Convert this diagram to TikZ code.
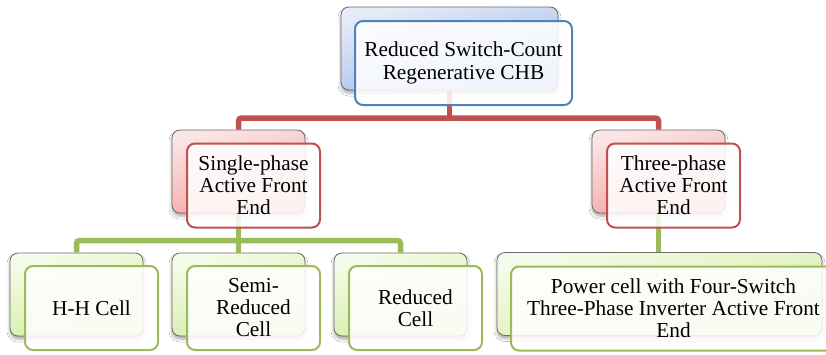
\documentclass[tikz,border=0pt]{standalone}
\usepackage{fontspec}
\setmainfont{Liberation Serif}
\usetikzlibrary{shadows.blur}

\definecolor{accblue}{HTML}{4F81BD}
\definecolor{accred}{HTML}{C0504D}
\definecolor{accgreen}{HTML}{9BBB59}
\definecolor{blueTop}{HTML}{E6ECF7}
\definecolor{blueBot}{HTML}{9DB8EA}
\definecolor{redTop}{HTML}{FBE6E6}
\definecolor{redBot}{HTML}{F4A3A3}
\definecolor{greenTop}{HTML}{F5FBEA}
\definecolor{greenBot}{HTML}{D2EDA2}

\tikzset{
  backbox/.style={rectangle, rounded corners=8pt, draw=black!58, line width=0.8pt,
    inner sep=0pt, minimum height=83pt,
    blur shadow={shadow xshift=0pt, shadow yshift=-3pt, shadow blur radius=3pt, shadow opacity=35}},
  frontbox/.style={rectangle, rounded corners=8pt, line width=2pt,
    fill=white, fill opacity=0.86, text opacity=1, inner sep=0pt,
    minimum height=84pt, align=center,
    font=\fontsize{21.3}{22}\selectfont},
  bluebox/.style={backbox, top color=blueTop, bottom color=blueBot, shading angle=15},
  redbox/.style={backbox, top color=redTop, bottom color=redBot, shading angle=15},
  greenbox/.style={backbox, top color=greenTop, bottom color=greenBot, shading angle=15},
  conn/.style={line width=5.5pt, rounded corners=3pt},
}

\begin{document}
\begin{tikzpicture}[x=1pt, y=-1pt]
\clip (0,0) rectangle (826,354);
\fill[white] (0,0) rectangle (826,354);

% rear boxes
\node[bluebox, minimum width=217pt] (topB) at (449.5,48.5) {};
\node[redbox, minimum width=133pt] (sgB) at (238.5,171.5) {};
\node[redbox, minimum width=133pt] (thB) at (658.5,171.5) {};
\node[greenbox, minimum width=133pt] (hhB) at (76.5,294.5) {};
\node[greenbox, minimum width=133pt] (smB) at (238.5,294.5) {};
\node[greenbox, minimum width=133pt] (rdB) at (400.5,294.5) {};
\node[greenbox, minimum width=325pt] (pcB) at (659.5,294) {};

% connectors
\coordinate (rbar) at (0,118);
\coordinate (gbar) at (0,240.5);
\draw[conn, accred] (topB.south) -- (topB.south |- rbar);
\draw[conn, accred] (sgB.north) -- (sgB.north |- rbar) -- (thB.north |- rbar) -- (thB.north);
\draw[conn, accgreen] (hhB.north) -- (hhB.north |- gbar) -- (rdB.north |- gbar) -- (rdB.north);
\draw[conn, accgreen] (sgB.south) -- (smB.north);
\draw[conn, accgreen] (thB.south) -- (thB.south |- pcB.north);

% front boxes with labels
\node[frontbox, draw=accblue, minimum width=217pt] (topF) at (463.5,63)
  {Reduced Switch-Count\\[1.5pt]Regenerative CHB};
\node[frontbox, draw=accred, minimum width=133pt] (sgF) at (253.5,185.5)
  {Single-phase\\Active Front\\End};
\node[frontbox, draw=accred, minimum width=133pt] (thF) at (673.5,185.5)
  {Three-phase\\Active Front\\End};
\node[frontbox, draw=accgreen, minimum width=133pt] (hhF) at (91.5,308)
  {H-H Cell};
\node[frontbox, draw=accgreen, minimum width=133pt] (smF) at (253.5,308)
  {Semi-\\Reduced\\Cell};
\node[frontbox, draw=accgreen, minimum width=133pt] (rdF) at (415.5,308)
  {Reduced\\Cell};
\node[frontbox, draw=accgreen, minimum width=325pt] (pcF) at (673.5,308.5)
  {Power cell with Four-Switch\\Three-Phase Inverter Active Front\\End};
\end{tikzpicture}
\end{document}
